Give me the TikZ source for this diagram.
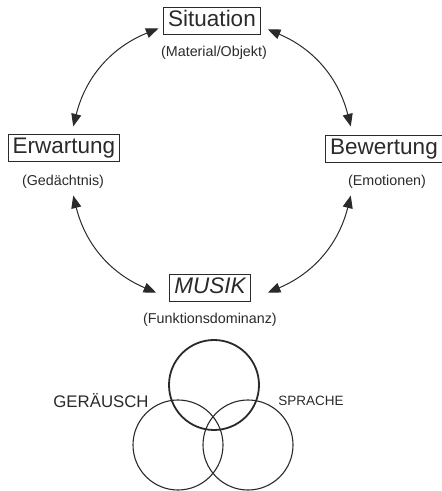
\documentclass[tikz,border=0pt]{standalone}
\usepackage{fontspec}
\setmainfont{Liberation Sans}
\usetikzlibrary{arrows.meta,calc}
\definecolor{ink}{HTML}{2A2A2A}
\tikzset{
  boxlabel/.style={draw=ink,line width=0.9pt,text=ink,inner xsep=4.5pt,inner ysep=3pt,
    text height=16.5pt,text depth=4.5pt,font=\fontsize{22.5}{24}\selectfont},
  sublabel/.style={text=ink,inner sep=1pt,font=\fontsize{14.3}{16}\selectfont},
  capslabel/.style={text=ink,inner sep=1pt},
  arcarrow/.style={draw=ink,line width=1pt,{Triangle[length=12.5pt,width=10pt]}-{Triangle[length=12.5pt,width=10pt]}},
  venn/.style={circle,draw=ink,minimum size=90pt,inner sep=0pt},
}
\begin{document}
\begin{tikzpicture}[x=1pt,y=1pt]
\useasboundingbox (0,0) rectangle (442,491);
% boxes
\node[boxlabel] (sit) at (212,470.5) {Situation};
\node[sublabel] (sitsub) at (214,438) {(Material/Objekt)};
\node[boxlabel] (erw) at (64,343.5) {Erwartung};
\node[sublabel] (erwsub) at (63,309) {(Gedächtnis)};
\node[boxlabel] (bew) at (384,342) {Bewertung};
\node[sublabel] (bewsub) at (387,309) {(Emotionen)};
\node[boxlabel,font=\fontsize{22.5}{24}\selectfont\itshape] (mus) at (210,203) {MUSIK};
\node[sublabel] (mussub) at (210,171) {(Funktionsdominanz)};
% arc end points on a circle
\coordinate (C) at (212,330);
\coordinate (a1) at ($(C)+(112:143)$);
\coordinate (a2) at ($(C)+(166:143)$);
\coordinate (b1) at ($(C)+(14:143)$);
\coordinate (b2) at ($(C)+(67:143)$);
\coordinate (c1) at ($(C)+(-166:143)$);
\coordinate (c2) at ($(C)+(-113:143)$);
\coordinate (d1) at ($(C)+(-67:143)$);
\coordinate (d2) at ($(C)+(-14:143)$);
\draw[arcarrow] (a1) to[bend right=27] (a2);
\draw[arcarrow] (b1) to[bend right=26.5] (b2);
\draw[arcarrow] (c1) to[bend right=26.5] (c2);
\draw[arcarrow] (d1) to[bend right=26.5] (d2);
% Venn circles
\node[venn,line width=1.8pt] (top) at (214,106) {};
\node[venn,line width=1.1pt] (left) at (178,46) {};
\node[venn,line width=1.1pt] (right) at (248,46) {};
\node[capslabel,font=\fontsize{16.8}{18}\selectfont] (ger) at (101,90) {GERÄUSCH};
\node[capslabel,font=\fontsize{13.5}{16}\selectfont] (spr) at (311,90) {SPRACHE};
\end{tikzpicture}
\end{document}
